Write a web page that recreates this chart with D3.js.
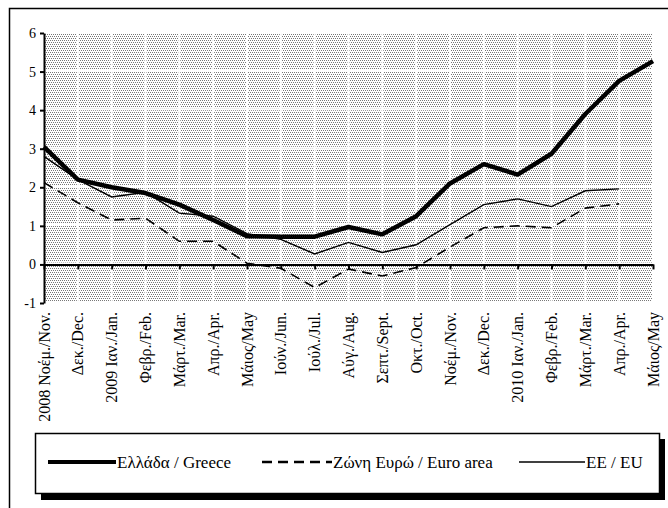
<!DOCTYPE html>
<html>
<head>
<meta charset="utf-8">
<script src="https://cdn.jsdelivr.net/npm/d3@7"></script>
<style>
  body { margin: 0; background: #fff; }
  svg { display: block; }
</style>
</head>
<body>
<div id="chart"></div>
<script>
// month labels on the x axis
var months = ['2008 Νοέμ./Nov.', 'Δεκ./Dec.', '2009 Ιαν./Jan.', 'Φεβρ./Feb.', 'Μάρτ./Mar.',
    'Απρ./Apr.', 'Μάιος/May', 'Ιούν./Jun.', 'Ιούλ./Jul.', 'Αύγ./Aug.', 'Σεπτ./Sept.',
    'Οκτ./Oct.', 'Νοέμ./Nov.', 'Δεκ./Dec.', '2010 Ιαν./Jan.', 'Φεβρ./Feb.', 'Μάρτ./Mar.',
    'Απρ./Apr.', 'Μάιος/May'];

// series values (annual % change)
var greece = [3.05, 2.2, 2.0, 1.85, 1.55, 1.15, 0.73, 0.72, 0.72, 0.97, 0.78, 1.25, 2.1,
    2.6, 2.33, 2.87, 3.9, 4.76, 5.27];
var euroArea = [2.12, 1.6, 1.15, 1.2, 0.6, 0.6, 0.03, -0.1, -0.6, -0.12, -0.3, -0.08, 0.45,
    0.95, 1.0, 0.95, 1.46, 1.57];
var eu = [2.8, 2.2, 1.75, 1.87, 1.33, 1.25, 0.8, 0.65, 0.27, 0.57, 0.31, 0.51, 1.03,
    1.55, 1.7, 1.5, 1.91, 1.96];

var yTicks = [-1, 0, 1, 2, 3, 4, 5, 6];

var W = 668, H = 508;
var margin = { top: 33, right: 15, bottom: 205, left: 44 };
var serif = '"Liberation Serif", "Times New Roman", serif';

var svg = d3.select('#chart').append('svg')
    .attr('width', W)
    .attr('height', H)
    .style('font-family', serif);

// dotted fill for the plot area
var defs = svg.append('defs');
var pat = defs.append('pattern')
    .attr('id', 'dots')
    .attr('patternUnits', 'userSpaceOnUse')
    .attr('width', 4).attr('height', 4);
[[0, 0], [2, 0], [1, 2], [3, 2]].forEach(function (p) {
    pat.append('rect')
        .attr('x', p[0]).attr('y', p[1])
        .attr('width', 1).attr('height', 1)
        .attr('fill', '#777');
});

// outer frame (only top and left edges fall inside the picture)
svg.append('path')
    .attr('d', 'M9.5,' + H + 'V8.5H' + W)
    .attr('fill', 'none')
    .attr('stroke', '#000')
    .attr('stroke-width', 1.5);

var x = d3.scalePoint().domain(d3.range(months.length)).range([margin.left, 653]);
var y = d3.scaleLinear().domain([-1, 6]).range([303, margin.top]);

var g = svg.append('g');

g.append('rect')
    .attr('x', x(0)).attr('y', y(6))
    .attr('width', x(months.length - 1) - x(0))
    .attr('height', y(-1) - y(6))
    .attr('fill', 'url(#dots)');

// white grid lines through the pattern
g.selectAll('.hgrid')
    .data(yTicks)
    .enter().append('line')
    .attr('x1', x(0)).attr('x2', x(months.length - 1))
    .attr('y1', function (d) { return y(d) - 1; })
    .attr('y2', function (d) { return y(d) - 1; })
    .attr('stroke', '#fff')
    .attr('stroke-width', 2);

g.selectAll('.vgrid')
    .data(d3.range(1, months.length))
    .enter().append('line')
    .attr('x1', function (d) { return x(d); })
    .attr('x2', function (d) { return x(d); })
    .attr('y1', y(6)).attr('y2', y(-1))
    .attr('stroke', '#fff')
    .attr('stroke-width', 2);

// y axis
var yAxis = g.append('g')
    .attr('transform', 'translate(' + margin.left + ',0)')
    .call(d3.axisLeft(y).tickValues(yTicks).tickSize(4).tickSizeOuter(0).tickFormat(d3.format('d')));
yAxis.select('.domain').attr('stroke-width', 2);
yAxis.selectAll('.tick line').attr('stroke-width', 2);
yAxis.selectAll('.tick text')
    .attr('font-family', serif)
    .attr('font-size', 14)
    .attr('fill', '#000')
    .attr('x', -8)
    .text(function (d) { return d; });

// x axis sits on zero
var xAxis = g.append('g')
    .attr('transform', 'translate(0,' + y(0) + ')')
    .call(d3.axisBottom(x).tickSize(5).tickSizeOuter(0).tickFormat(''));
xAxis.select('.domain').attr('stroke-width', 2);
xAxis.selectAll('.tick line').attr('stroke-width', 2);

// month labels, rotated, under the plot area
g.selectAll('.mlabel')
    .data(months)
    .enter().append('text')
    .attr('transform', function (d, i) {
        return 'translate(' + x(i) + ',312) rotate(-90)';
    })
    .attr('text-anchor', 'end')
    .attr('dy', '0.35em')
    .attr('font-family', serif)
    .attr('font-size', 16)
    .attr('fill', '#000')
    .text(function (d) { return d; });

// lines
var line = d3.line()
    .x(function (d, i) { return x(i); })
    .y(function (d) { return y(d); });

g.append('path')
    .datum(eu)
    .attr('d', line)
    .attr('fill', 'none')
    .attr('stroke', '#000')
    .attr('stroke-width', 1.4);

g.append('path')
    .datum(euroArea)
    .attr('d', line)
    .attr('fill', 'none')
    .attr('stroke', '#000')
    .attr('stroke-width', 1.6)
    .attr('stroke-dasharray', '10,6');

g.append('path')
    .datum(greece)
    .attr('d', line)
    .attr('fill', 'none')
    .attr('stroke', '#000')
    .attr('stroke-width', 4.5)
    .attr('stroke-linejoin', 'round');

// legend box with a drop shadow
var lg = svg.append('g');
lg.append('rect')
    .attr('x', 41).attr('y', 439).attr('width', 624).attr('height', 61)
    .attr('fill', '#000');
lg.append('rect')
    .attr('x', 35.5).attr('y', 433.5).attr('width', 624).attr('height', 60)
    .attr('fill', '#fff')
    .attr('stroke', '#000')
    .attr('stroke-width', 1.5);

var legendItems = [
    { name: 'Ελλάδα / Greece', x1: 48, x2: 116, width: 4, dash: null },
    { name: 'Ζώνη Ευρώ / Euro area', x1: 262, x2: 332, width: 2.5, dash: '10,6' },
    { name: 'ΕΕ / EU', x1: 519, x2: 585, width: 1.4, dash: null }
];

lg.selectAll('.li')
    .data(legendItems)
    .enter().append('line')
    .attr('x1', function (d) { return d.x1; })
    .attr('x2', function (d) { return d.x2; })
    .attr('y1', 462).attr('y2', 462)
    .attr('stroke', '#000')
    .attr('stroke-width', function (d) { return d.width; })
    .attr('stroke-dasharray', function (d) { return d.dash; });

lg.selectAll('.lt')
    .data(legendItems)
    .enter().append('text')
    .attr('x', function (d) { return d.x2 + 1; })
    .attr('y', 468)
    .attr('font-family', serif)
    .attr('font-size', 17)
    .attr('fill', '#000')
    .text(function (d) { return d.name; });
</script>
</body>
</html>
